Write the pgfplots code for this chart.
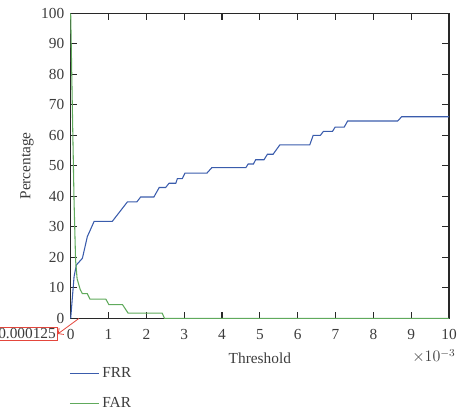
\documentclass[border=0pt]{standalone}
\usepackage{pgfplots}
\pgfplotsset{compat=1.18}
\usetikzlibrary{arrows.meta}
\usepackage{fontspec}
\setmainfont{Liberation Serif}
\definecolor{frrblue}{RGB}{58,92,172}
\definecolor{fargreen}{RGB}{96,170,92}
\definecolor{axgray}{RGB}{40,40,40}
\definecolor{txtgray}{RGB}{60,60,60}
\definecolor{boxred}{RGB}{228,70,60}

\begin{document}
\fontsize{11}{13}\selectfont
\begin{tikzpicture}
\begin{axis}[
  scale only axis,
  width=283.7pt, height=228.75pt,
  xmin=0, xmax=10, ymin=0, ymax=100,
  xtick={0,1,...,10}, ytick={0,10,...,100},
  tick align=inside,
  tick pos=both,
  major tick length=5pt,
  axis line style={axgray, line width=0.9pt},
  tick style={axgray, line width=0.8pt},
  ticklabel style={text=txtgray, font=\fontsize{11.5}{13}\selectfont},
  xticklabel style={yshift=-4.5pt},
  yticklabel style={xshift=-1pt},
  /pgf/number format/assume math mode=true,
  xlabel={Threshold}, ylabel={Percentage},
  label style={text=txtgray, font=\fontsize{11.5}{13}\selectfont},
  xlabel style={yshift=-2pt},
  ylabel style={yshift=-2pt},
  clip=false,
  legend style={draw=none, fill=none, at={(rel axis cs:-0.015,-0.142)}, anchor=north west,
    font=\fontsize{11.5}{13}\selectfont, text=txtgray, row sep=9pt},
  legend cell align=left,
  legend image code/.code={\draw[#1] (0pt,0pt) -- (22pt,0pt);},
]
\addplot[frrblue, line width=0.8pt] coordinates {
  (0,0) (0.09,13.7) (0.15,17.5) (0.31,19.7) (0.44,26.8) (0.62,31.8) (1.10,31.8)
  (1.50,38.2) (1.75,38.2) (1.85,39.8) (2.20,39.8) (2.34,42.9) (2.51,42.9)
  (2.60,44.3) (2.78,44.3) (2.82,45.8) (2.95,45.8) (3.02,47.6) (3.60,47.6)
  (3.73,49.4) (4.63,49.4) (4.69,50.6) (4.83,50.6) (4.89,52.0) (5.11,52.0)
  (5.20,53.8) (5.35,53.8) (5.53,56.9) (6.32,56.9) (6.41,60.0) (6.60,60.0)
  (6.68,61.3) (6.92,61.3) (6.99,62.7) (7.23,62.7) (7.32,64.7) (8.64,64.7)
  (8.75,66.1) (10,66.1)
};
\addlegendentry{FRR}
\addplot[fargreen, line width=0.8pt] coordinates {
  (0,100) (0.05,65) (0.09,38) (0.13,19) (0.17,13) (0.25,9.5) (0.31,8.1)
  (0.44,8.1) (0.51,6.3) (0.93,6.3) (1.01,4.5) (1.37,4.5) (1.52,1.7)
  (2.42,1.7) (2.48,0) (10,0)
};
\addlegendentry{FAR}
% multiplier of the threshold axis
\node[anchor=north east, text=txtgray, inner sep=0pt, font=\fontsize{11.5}{13}\selectfont]
  at (rel axis cs:1.018,-0.1) {$\times10^{-3}$};
% value tag for the first threshold
\node[draw=boxred, line width=0.6pt, text=txtgray, anchor=east, inner sep=1.2pt,
      font=\fontsize{11.5}{13}\selectfont] (tag) at (axis cs:-0.34,-5.1) {0.000125};
\draw[boxred, line width=0.6pt, -{Straight Barb[length=3pt]}] (axis cs:0.22,0) -- (tag.east);
\coordinate (bl) at (rel axis cs:0,0);
\coordinate (tr) at (rel axis cs:1,1);
\end{axis}
% page frame
\pgfresetboundingbox
\path ([shift={(-53pt,-70.1pt)}]bl) rectangle ([shift={(6pt,10pt)}]tr);
\end{tikzpicture}
\end{document}
